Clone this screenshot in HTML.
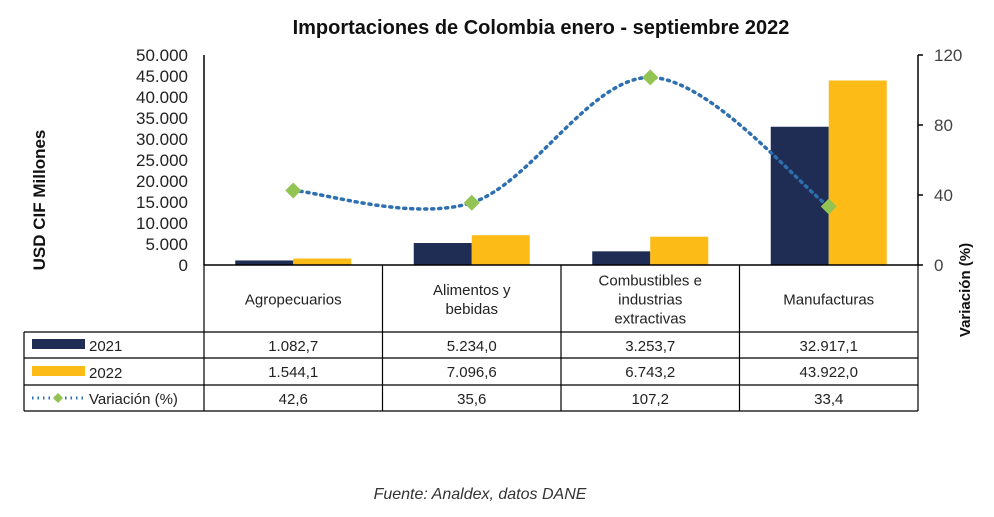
<!DOCTYPE html>
<html><head><meta charset="utf-8"><style>
body{margin:0;background:#fff;font-family:"Liberation Sans",sans-serif}
svg text{font-family:"Liberation Sans",sans-serif}
</style></head><body>
<svg width="994" height="512" viewBox="0 0 994 512">
<text x="541" y="34" text-anchor="middle" font-size="20" font-weight="bold" fill="#111">Importaciones de Colombia enero - septiembre 2022</text>
<g id="grid"></g>
<g id="bars"></g>
<g id="line"></g>
<g id="axes"></g>
<g id="table"></g>
<text transform="translate(45,200) rotate(-90)" text-anchor="middle" font-size="17" font-weight="bold" fill="#111">USD CIF Millones</text>
<text transform="translate(970,290) rotate(-90)" text-anchor="middle" font-size="15" font-weight="bold" fill="#111">Variación (%)</text>
<text x="480" y="499" text-anchor="middle" font-size="16" font-style="italic" fill="#333">Fuente: Analdex, datos DANE</text>
</svg>
<script>
const categories=["Agropecuarios","Alimentos y|bebidas","Combustibles e|industrias|extractivas","Manufacturas"];
const v2021=[1082.7,5234.0,3253.7,32917.1];
const v2022=[1544.1,7096.6,6743.2,43922.0];
const variacion=[42.6,35.6,107.2,33.4];
const leftTicks=[0,5000,10000,15000,20000,25000,30000,35000,40000,45000,50000];
const rightTicks=[0,40,80,120];
const fmt=(v,d)=>v.toLocaleString('de-DE',{minimumFractionDigits:d,maximumFractionDigits:d});
const NS="http://www.w3.org/2000/svg";
const X0=204,X1=918,Y0=265,Y1=55;
const cw=(X1-X0)/categories.length;
const yL=v=>Y0-(v/50000)*(Y0-Y1);
const yR=v=>Y0-(v/120)*(Y0-Y1);
const cx=i=>X0+cw*(i+0.5);
function mk(tag,attrs,parent,txt){const e=document.createElementNS(NS,tag);for(const k in attrs)e.setAttribute(k,attrs[k]);if(txt!==undefined)e.textContent=txt;document.getElementById(parent).appendChild(e);return e;}
const bw=58;
categories.forEach((c,i)=>{
  let e=mk('rect',{x:cx(i)-bw,y:yL(v2021[i]),width:bw,height:Y0-yL(v2021[i]),fill:'#1f2d55'},'bars');
  
  
  e=mk('rect',{x:cx(i),y:yL(v2022[i]),width:bw,height:Y0-yL(v2022[i]),fill:'#fdbb18'},'bars');
  
  
});
const pts=variacion.map((v,i)=>[cx(i),yR(v)]);
let d=`M${pts[0][0]},${pts[0][1]}`;
for(let i=0;i<pts.length-1;i++){
  const p0=pts[Math.max(0,i-1)],p1=pts[i],p2=pts[i+1],p3=pts[Math.min(pts.length-1,i+2)];
  const t=6;
  d+=` C${p1[0]+(p2[0]-p0[0])/t},${p1[1]+(p2[1]-p0[1])/t} ${p2[0]-(p3[0]-p1[0])/t},${p2[1]-(p3[1]-p1[1])/t} ${p2[0]},${p2[1]}`;
}
let ln=mk('path',{d:d,fill:'none',stroke:'#2e6fb0','stroke-width':3.5,'stroke-dasharray':'2 5','stroke-linecap':'round'},'line');


pts.forEach((p,i)=>{
  const m=mk('path',{d:`M${p[0]},${p[1]-8}L${p[0]+8},${p[1]}L${p[0]},${p[1]+8}L${p[0]-8},${p[1]}Z`,fill:'#92c353'},'line');
  
  
});
mk('line',{x1:X0,y1:Y1,x2:X0,y2:Y0,stroke:'#000','stroke-width':1.5},'axes');
mk('line',{x1:X1,y1:Y1,x2:X1,y2:Y0,stroke:'#000','stroke-width':1.5},'axes');
mk('line',{x1:X0,y1:Y0,x2:X1,y2:Y0,stroke:'#000','stroke-width':1.5},'axes');
leftTicks.forEach(t=>{
  const e=mk('text',{x:188,y:yL(t)+6,'text-anchor':'end','font-size':17,fill:'#222'},'axes',t===0?'0':fmt(t,0));
  
  
});
rightTicks.forEach(t=>{
  mk('line',{x1:X1,y1:yR(t),x2:X1+5,y2:yR(t),stroke:'#000','stroke-width':1.5},'axes');
  const e=mk('text',{x:934,y:yR(t)+6,'font-size':17,fill:'#444'},'axes',String(t));
  
  
});
const rows=[265,332,358,385,411];
const L=24;
const st={stroke:'#000','stroke-width':1.2};
for(let i=0;i<=categories.length;i++){const x=X0+cw*i;mk('line',Object.assign({x1:x,y1:Y0,x2:x,y2:rows[4]},st),'table');}
mk('line',Object.assign({x1:L,y1:rows[1],x2:L,y2:rows[4]},st),'table');
[1,2,3,4].forEach(r=>mk('line',Object.assign({x1:L,y1:rows[r],x2:X1,y2:rows[r]},st),'table'));
categories.forEach((c,i)=>{
  const lines=c.split('|');const mid=(rows[0]+rows[1])/2;
  lines.forEach((s,j)=>{const e=mk('text',{x:cx(i),y:mid+6+(j-(lines.length-1)/2)*19,'text-anchor':'middle','font-size':15,fill:'#222'},'table',s);
  
  });
});
const series=[[v2021,1],[v2022,1],[variacion,1]];
series.forEach((s,r)=>{
  s[0].forEach((v,i)=>{const e=mk('text',{x:cx(i),y:rows[r+1]+19,'text-anchor':'middle','font-size':15,fill:'#222'},'table',fmt(v,1));
  
  });
});
mk('rect',{x:32,y:339,width:53,height:10,fill:'#1f2d55'},'table');
mk('rect',{x:32,y:366,width:53,height:10,fill:'#fdbb18'},'table');
mk('line',{x1:32,y1:398,x2:85,y2:398,stroke:'#2e6fb0','stroke-width':3,'stroke-dasharray':'1.5 4'},'table');
mk('path',{d:'M58,393L63,398L58,403L53,398Z',fill:'#92c353'},'table');
[['2021',351],['2022',378],['Variación (%)',404]].forEach(a=>{const e=mk('text',{x:89,y:a[1],'font-size':15,fill:'#222'},'table',a[0]);

});
</script>
</body></html>
